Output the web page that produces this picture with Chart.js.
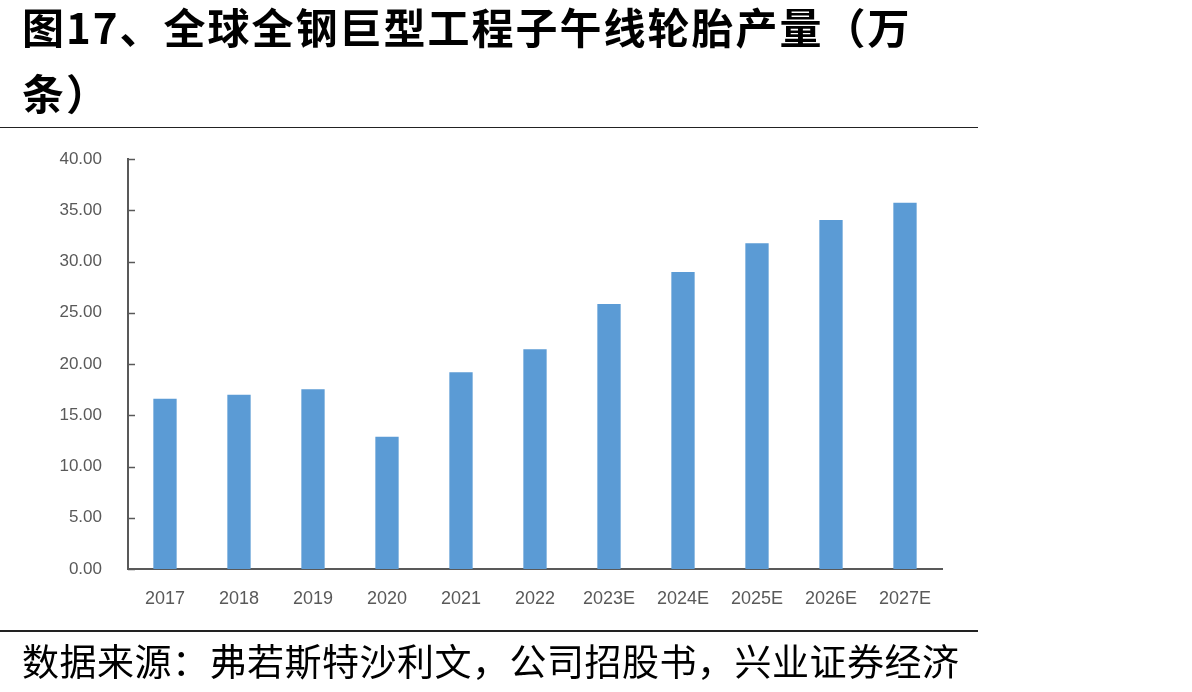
<!DOCTYPE html>
<html>
<head>
<meta charset="utf-8">
<script src="https://cdn.jsdelivr.net/npm/chart.js@4/dist/chart.umd.min.js"></script>
<style>
html,body{margin:0;padding:0;background:#fff;}
body{width:1192px;height:692px;position:relative;overflow:hidden;font-family:"Noto Sans CJK SC",sans-serif;}
#title{position:absolute;left:22px;top:-7px;font-size:42px;font-weight:bold;line-height:66px;color:#000;letter-spacing:2px;}
#rule1{position:absolute;left:0;top:127px;width:978px;height:0;border-top:1.5px solid #222;}
#rule2{position:absolute;left:0;top:630px;width:978px;height:0;border-top:2px solid #222;}
#src{position:absolute;left:22px;top:633px;font-size:37px;color:#000;white-space:nowrap;letter-spacing:0.5px;}
#wrap{position:absolute;left:0;top:0;width:1192px;height:692px;}
</style>
</head>
<body>
<div id="wrap"><canvas id="c"></canvas></div>
<div id="title">图17、全球全钢巨型工程子午线轮胎产量（万<br>条）</div>
<div id="rule1"></div>
<div id="rule2"></div>
<div id="src">数据来源：弗若斯特沙利文，公司招股书，兴业证券经济</div>
<script>
const years = ['2017','2018','2019','2020','2021','2022','2023E','2024E','2025E','2026E','2027E'];
const output = [16.62, 17.00, 17.53, 12.91, 19.20, 21.43, 25.85, 28.98, 31.77, 34.05, 35.74];
const yTicks = [0,5,10,15,20,25,30,35,40];

/* inward tick marks on the value axis */
const innerTicks = {
id:'innerTicks',
afterDraw(chart){
const ctx = chart.ctx;
const y = chart.scales.y;
const left = chart.chartArea.left;
ctx.save();
ctx.strokeStyle = '#595959';
ctx.lineWidth = 1.5;
yTicks.forEach(function(v){
const py = Math.round(y.getPixelForValue(v)) + 0.5;
ctx.beginPath();
ctx.moveTo(left, py);
ctx.lineTo(left + 7, py);
ctx.stroke();
});
ctx.restore();
}
};

new Chart(document.getElementById('c'),{
type:'bar',
data:{
labels:years,
datasets:[{
data:output,
backgroundColor:'#5b9bd5',
borderWidth:0,
barPercentage:0.315,
categoryPercentage:1
}]
},
options:{
responsive:true,
maintainAspectRatio:false,
animation:false,
layout:{padding:{left:0,top:159,right:250,bottom:73}},
plugins:{legend:{display:false},tooltip:{enabled:false}},
scales:{
x:{
grid:{display:false,drawTicks:false},
border:{display:true,color:'#595959',width:2},
ticks:{color:'#595959',font:{family:'Liberation Sans',size:18},padding:19,maxRotation:0,autoSkip:false},
afterFit:function(s){ s.height = 50; }
},
y:{
min:0,max:40,
grid:{display:false,drawTicks:false},
border:{display:true,color:'#595959',width:2},
ticks:{stepSize:5,color:'#595959',font:{family:'Liberation Sans',size:17},padding:26,
callback:function(v){ return v.toFixed(2); }},
afterFit:function(s){ s.width = 128; }
}
}
},
plugins:[innerTicks]
});
</script>
</body>
</html>
